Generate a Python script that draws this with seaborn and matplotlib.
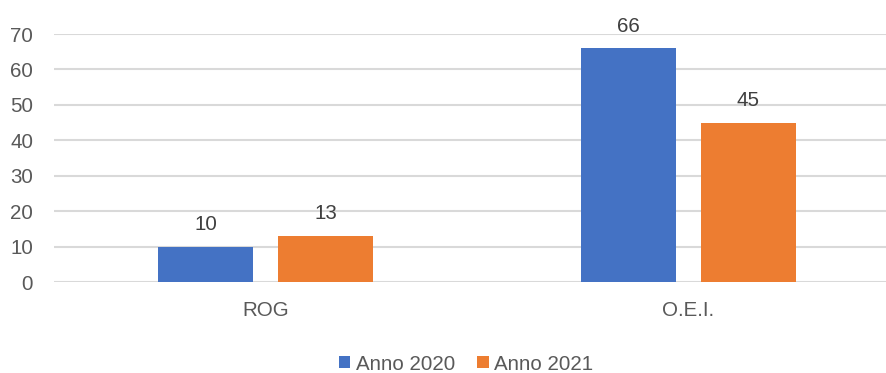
import matplotlib
matplotlib.use("Agg")
import matplotlib.pyplot as plt
import seaborn as sns
import pandas as pd

categories = ["ROG", "O.E.I."]
series_names = ["Anno 2020", "Anno 2021"]
values_2020 = [10, 66]
values_2021 = [13, 45]
y_ticks = [0, 10, 20, 30, 40, 50, 60, 70]

df = pd.DataFrame({
    "categoria": categories * 2,
    "serie": [series_names[0]] * len(categories) + [series_names[1]] * len(categories),
    "valore": values_2020 + values_2021,
})

sns.set_theme(style="white")
plt.rcParams["font.family"] = ["Liberation Sans", "DejaVu Sans"]

FS = 14.8

fig = plt.figure(figsize=(8.87, 3.73), dpi=100)
ax = fig.add_axes([54 / 887, 91 / 373, 846 / 887, 248 / 373])

palette = {series_names[0]: "#4472C4", series_names[1]: "#ED7D31"}
sns.barplot(data=df, x="categoria", y="valore", hue="serie", palette=palette,
            width=0.567, gap=0.208, ax=ax, saturation=1, linewidth=0)

for cont in ax.containers:
    ax.bar_label(cont, fmt="%d", padding=9, fontsize=FS, color="#404040")

ax.set_ylim(0, 70)
ax.set_xlim(-0.5, 1.5)
ax.set_yticks(y_ticks)
ax.set_xlabel("")
ax.set_ylabel("")
ax.grid(axis="y", color="#D9D9D9", linewidth=1.5)
ax.set_axisbelow(True)
for s in ax.spines.values():
    s.set_visible(False)
ax.tick_params(axis="both", length=0, labelsize=FS, labelcolor="#595959")
ax.tick_params(axis="y", pad=15)
ax.tick_params(axis="x", pad=14)

leg = ax.legend(loc="center", bbox_to_anchor=(466 / 887, 9 / 373),
                bbox_transform=fig.transFigure, ncol=2, frameon=False,
                fontsize=FS, handlelength=0.55, handleheight=0.55,
                handletextpad=0.25, columnspacing=1.1)
for t in leg.get_texts():
    t.set_color("#595959")

fig.savefig("out.png", dpi=100)
